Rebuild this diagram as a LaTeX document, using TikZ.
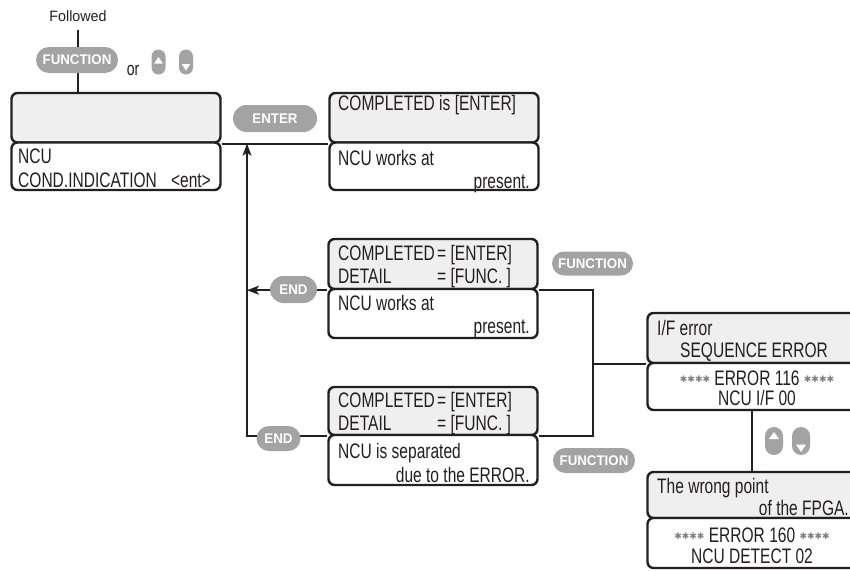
\documentclass[tikz,border=0pt]{standalone}
\usepackage{fontspec}
\setmainfont{Liberation Sans}[FakeStretch=0.74]
\newfontfamily\pillfont{Liberation Sans}[FakeStretch=0.95]
\newfontfamily\symfont{DejaVu Sans}
\usetikzlibrary{arrows.meta,calc}
\definecolor{ink}{HTML}{231F20}
\definecolor{pillgray}{HTML}{A3A3A3}
\definecolor{lcd}{HTML}{EFEFEF}
\newcommand\mystars{{\symfont\fontsize{9}{9}\selectfont\color{gray}\raisebox{2.5pt}{✱✱✱✱}}}
\begin{document}
\begin{tikzpicture}[x=1pt,y=-1pt,
  lcdtop/.style={draw=ink, fill=lcd, line width=2.4pt, rounded corners=6pt, minimum width=209pt, inner sep=0pt},
  lcdbot/.style={draw=ink, fill=white, line width=2.4pt, rounded corners=6pt, minimum width=209pt, inner sep=0pt},
  txt/.style={inner sep=0pt, text=ink, font=\fontsize{21}{23}\selectfont},
  pill/.style={fill=pillgray, rounded corners=12pt, text=white, inner sep=0pt, font=\pillfont\bfseries\fontsize{14}{15}\selectfont},
  conn/.style={draw=ink, line width=1.6pt},
  tip/.style={-{Stealth[length=12pt,width=9pt,inset=3pt]}},
  btn/.style={fill=pillgray, inner sep=0pt},
]
\clip (0,0) rectangle (850,570);
\fill[white] (0,0) rectangle (850,570);

% ---------- LCD boxes ----------
\node[lcdtop, minimum height=49.5pt] (b1t) at (116,117.75) {};
\node[lcdbot, minimum height=47.5pt] (b1b) at (116,166.25) {};
\node[lcdtop, minimum height=49.5pt] (b2t) at (434,117.75) {};
\node[lcdbot, minimum height=47.5pt] (b2b) at (434,166.25) {};
\node[lcdtop, minimum height=50pt] (b3t) at (433,264) {};
\node[lcdbot, minimum height=49pt] (b3b) at (433,313.5) {};
\node[lcdtop, minimum height=48pt] (b4t) at (433,411) {};
\node[lcdbot, minimum height=50pt] (b4b) at (433,460) {};
\node[lcdtop, minimum height=50pt] (b5t) at (752,338) {};
\node[lcdbot, minimum height=47pt] (b5b) at (752,386.5) {};
\node[lcdtop, minimum height=46pt] (b6t) at (752,495) {};
\node[lcdbot, minimum height=50pt] (b6b) at (752,543) {};

% ---------- texts ----------
\node[txt, anchor=base west] (t1a) at (18,163) {NCU};
\node[txt, anchor=base west] (t1b) at (18,187) {COND.INDICATION};
\node[txt, anchor=base east] (t1c) at (211,187) {<ent>};

\node[txt, anchor=base west] (t2a) at (338,110) {COMPLETED is [ENTER]};
\node[txt, anchor=base west] (t2b) at (338,165) {NCU works at};
\node[txt, anchor=base east] (t2c) at (530,188) {present.};

\node[txt, anchor=base west] (t3a) at (338,260) {COMPLETED};
\node[txt, anchor=base west] (t3b) at (437,260) {= [ENTER]};
\node[txt, anchor=base west] (t3c) at (338,283) {DETAIL};
\node[txt, anchor=base west] (t3d) at (437,283) {= [FUNC. ]};
\node[txt, anchor=base west] (t3e) at (338,310) {NCU works at};
\node[txt, anchor=base east] (t3f) at (530,333) {present.};

\node[txt, anchor=base west] (t4a) at (338,407) {COMPLETED};
\node[txt, anchor=base west] (t4b) at (437,407) {= [ENTER]};
\node[txt, anchor=base west] (t4c) at (338,430) {DETAIL};
\node[txt, anchor=base west] (t4d) at (437,430) {= [FUNC. ]};
\node[txt, anchor=base west] (t4e) at (338,458) {NCU is separated};
\node[txt, anchor=base east] (t4f) at (530,482) {due to the ERROR.};

\node[txt, anchor=base west] (t5a) at (657,335) {I/F error};
\node[txt, anchor=base west] (t5b) at (680,357) {SEQUENCE ERROR};
\node[txt, anchor=base] (t5c) at (757,385) {\mystars\ ERROR 116 \mystars};
\node[txt, anchor=base] (t5d) at (757,405) {NCU I/F 00};

\node[txt, anchor=base west] (t6a) at (657,493) {The wrong point};
\node[txt, anchor=base east] (t6b) at (849,515) {of the FPGA.};
\node[txt, anchor=base] (t6c) at (752,542) {\mystars\ ERROR 160 \mystars};
\node[txt, anchor=base] (t6d) at (752,563) {NCU DETECT 02};

% ---------- top labels ----------
\node[inner sep=0pt, text=ink, anchor=base, font=\pillfont\fontsize{15}{16}\selectfont] (fol) at (78,21) {Followed};
\node[inner sep=0pt, text=ink, anchor=base, font=\fontsize{19}{20}\selectfont] (orw) at (133,75) {or};

% ---------- connectors ----------
\coordinate (vx) at (247,0);
\coordinate (rx) at (593,0);
\draw[conn] (78,30) -- (78 ,93);
\draw[conn] (b1t.south east) -- (b2t.south west);
\draw[conn, tip] (b4t.south west) -- (b4t.south west -| vx) -- (b1t.south east -| vx);
\draw[conn, tip] (b3t.south west) -- (b3t.south west -| vx);
\draw[conn] (b3t.south east) -- (b3t.south east -| rx) -- (b4t.south east -| rx) -- (b4t.south east);
\draw[conn] (b5t.south west -| rx) -- (b5t.south west);
\draw[conn] (b5b.south) -- (b6t.north);

% ---------- pills ----------
\node[pill, minimum width=82pt, minimum height=26pt, rounded corners=13pt] (pf1) at (77,60) {FUNCTION};
\node[pill, minimum width=84pt, minimum height=27pt, rounded corners=13.5pt] (pent) at (275,118.5) {ENTER};
\node[pill, minimum width=47pt, minimum height=27pt, rounded corners=13.5pt] (pend1) at (293.5,289.5) {END};
\node[pill, minimum width=44pt, minimum height=25pt, rounded corners=12.5pt] (pend2) at (278.5,438.5) {END};
\node[pill, minimum width=81pt, minimum height=24pt, rounded corners=12pt] (pf2) at (592.5,263.5) {FUNCTION};
\node[pill, minimum width=82pt, minimum height=25pt, rounded corners=12.5pt] (pf3) at (594,460.5) {FUNCTION};

% ---------- up/down buttons ----------
\node[btn, minimum width=14pt, minimum height=25pt, rounded corners=7pt] (bu1) at (158.5,62) {};
\node[btn, minimum width=14pt, minimum height=25pt, rounded corners=7pt] (bd1) at (186,62) {};
\fill[white] ($(bu1.center)+(0,-5)$) -- ($(bu1.center)+(4.3,1.5)$) -- ($(bu1.center)+(-4.3,1.5)$) -- cycle;
\fill[white] ($(bd1.center)+(0,8.5)$) -- ($(bd1.center)+(4.3,2)$) -- ($(bd1.center)+(-4.3,2)$) -- cycle;

\node[btn, minimum width=18pt, minimum height=28pt, rounded corners=9pt] (bu2) at (774,441) {};
\node[btn, minimum width=18pt, minimum height=28pt, rounded corners=9pt] (bd2) at (801,441) {};
\fill[white] ($(bu2.center)+(0,-9)$) -- ($(bu2.center)+(5,-2)$) -- ($(bu2.center)+(-5,-2)$) -- cycle;
\fill[white] ($(bd2.center)+(0,11)$) -- ($(bd2.center)+(5,3.5)$) -- ($(bd2.center)+(-5,3.5)$) -- cycle;
\end{tikzpicture}
\end{document}
